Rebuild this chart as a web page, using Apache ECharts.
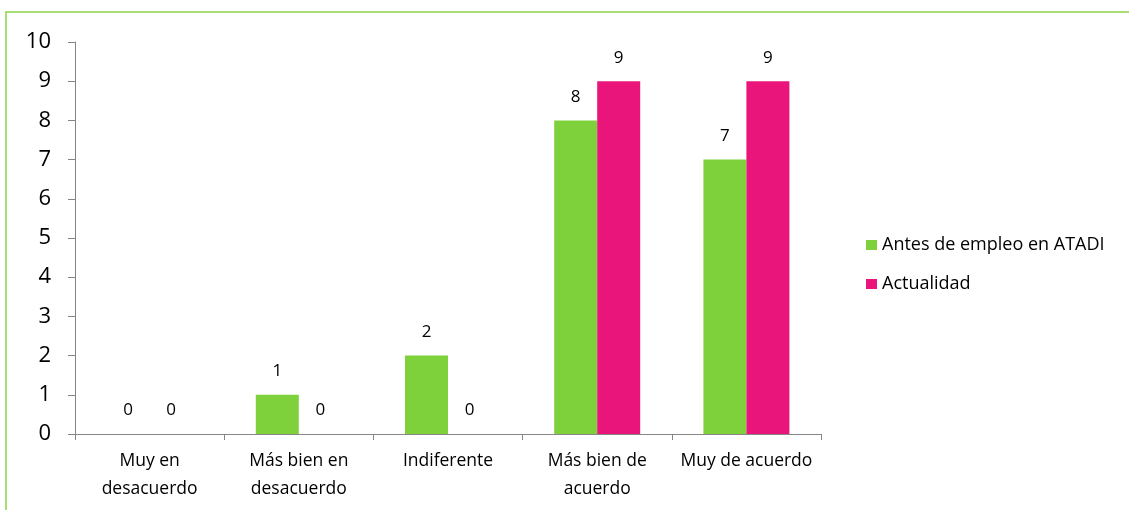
<!DOCTYPE html>
<html>
<head>
<meta charset="utf-8">
<script src="https://cdn.jsdelivr.net/npm/echarts@6/dist/echarts.min.js"></script>
<style>
  html, body { margin: 0; padding: 0; background: #fff; }
  #chart { width: 1129px; height: 510px; }
</style>
</head>
<body>
<div id="chart"></div>
<script>
// Survey answers, number of respondents per response option
const categories = ['Muy en\ndesacuerdo', 'Más bien en\ndesacuerdo', 'Indiferente', 'Más bien de\nacuerdo', 'Muy de acuerdo'];
const seriesNames = ['Antes de empleo en ATADI', 'Actualidad'];
const antes = [0, 1, 2, 8, 7];
const actualidad = [0, 0, 0, 9, 9];
const yTicks = { min: 0, max: 10, interval: 1 };

const font = '"Open Sans", "Liberation Sans", sans-serif';
const axisGray = '#868686';

const chart = echarts.init(document.getElementById('chart'), null, { renderer: 'canvas' });

const labelStyle = {
  show: true,
  position: 'top',
  distance: 15,
  color: '#000',
  fontSize: 17,
  fontFamily: font
};

chart.setOption({
  animation: false,
  graphic: [{
    type: 'rect',
    shape: { x: 6, y: 12, width: 1300, height: 700 },
    style: { fill: 'none', stroke: '#8CD446', lineWidth: 1.5 },
    silent: true
  }],
  legend: {
    orient: 'vertical',
    left: 861,
    top: 231,
    itemWidth: 11,
    itemHeight: 10,
    itemGap: 21,
    icon: 'rect',
    textStyle: { fontSize: 18, fontFamily: font, color: '#000' },
    data: seriesNames
  },
  grid: { left: 75, right: 308, top: 42, bottom: 76, containLabel: false },
  xAxis: {
    type: 'category',
    data: categories,
    axisLine: { lineStyle: { color: axisGray, width: 1 } },
    axisTick: { show: true, inside: false, length: 6, alignWithLabel: false, lineStyle: { color: axisGray } },
    axisLabel: { color: '#000', fontSize: 17.5, fontFamily: font, lineHeight: 28, margin: 13, interval: 0 }
  },
  yAxis: {
    type: 'value',
    min: yTicks.min,
    max: yTicks.max,
    interval: yTicks.interval,
    axisLine: { show: true, lineStyle: { color: axisGray, width: 1 } },
    axisTick: { show: true, inside: false, length: 7, lineStyle: { color: axisGray } },
    splitLine: { show: false },
    axisLabel: { color: '#000', fontSize: 22, fontFamily: font, margin: 24 }
  },
  series: [
    {
      name: seriesNames[0],
      type: 'bar',
      data: antes,
      barWidth: 43,
      barGap: '0%',
      itemStyle: { color: '#7FD13B' },
      label: labelStyle
    },
    {
      name: seriesNames[1],
      type: 'bar',
      data: actualidad,
      barWidth: 43,
      barGap: '0%',
      itemStyle: { color: '#EA157A' },
      label: labelStyle
    }
  ]
});
</script>
</body>
</html>
